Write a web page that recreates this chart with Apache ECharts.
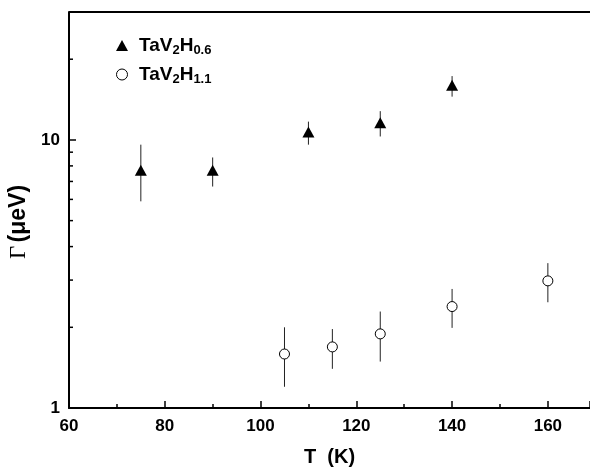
<!DOCTYPE html>
<html>
<head>
<meta charset="utf-8">
<script src="https://cdn.jsdelivr.net/npm/echarts@6/dist/echarts.min.js"></script>
<style>
  html, body { margin: 0; padding: 0; background: #fff; }
  #main { width: 590px; height: 468px; }
</style>
</head>
<body>
<div id="main"></div>
<script>
// TaV2H0.6 : T, gamma, low, high
var tempA = [75, 90, 110, 125, 140];
var gammaA = [7.7, 7.7, 10.7, 11.6, 16.0];
var lowA = [5.9, 6.7, 9.6, 10.3, 14.5];
var highA = [9.6, 8.6, 11.7, 12.8, 17.3];

// TaV2H1.1
var tempB = [105, 115, 125, 140, 160];
var gammaB = [1.59, 1.69, 1.89, 2.39, 2.98];
var lowB = [1.2, 1.4, 1.49, 1.99, 2.48];
var highB = [2.0, 1.97, 2.29, 2.78, 3.47];

var yMinorTicks = [2, 3, 4, 5, 6, 7, 8, 9, 20];

function pairs(xs, ys) {
    var out = [];
    for (var i = 0; i < xs.length; i++) out.push([xs[i], ys[i]]);
    return out;
}
function bars(xs, lo, hi) {
    var out = [];
    for (var i = 0; i < xs.length; i++) out.push([xs[i], lo[i], hi[i]]);
    return out;
}

function renderBar(params, api) {
    var p1 = api.coord([api.value(0), api.value(1)]);
    var p2 = api.coord([api.value(0), api.value(2)]);
    return {
        type: 'line',
        shape: { x1: p1[0], y1: p1[1], x2: p2[0], y2: p2[1] },
        style: { stroke: '#222', lineWidth: 1 }
    };
}

function renderMinor(params, api) {
    var p = api.coord([api.value(0), api.value(1)]);
    return {
        type: 'line',
        shape: { x1: p[0], y1: p[1], x2: p[0] + 4, y2: p[1] },
        style: { stroke: '#000', lineWidth: 1.5 }
    };
}

var sub = { fontSize: 13, fontWeight: 'bold', fontFamily: 'Liberation Sans', color: '#000', padding: [10, 0, 0, 0] };
var big = { fontSize: 19, fontWeight: 'bold', fontFamily: 'Liberation Sans', color: '#000' };

var myChart = echarts.init(document.getElementById('main'));
var option = {
    backgroundColor: '#fff',
    animation: false,
    grid: { left: 69, right: 0, top: 12, bottom: 60, outerBoundsMode: 'none', containLabel: false },
    legend: {
        orient: 'vertical',
        left: 111,
        top: 31,
        itemGap: 8,
        itemWidth: 12,
        itemHeight: 11,
        data: [
            { name: 'a', icon: 'triangle', itemStyle: { color: '#000' } },
            { name: 'b', icon: 'circle', itemStyle: { color: '#fff', borderColor: '#000', borderWidth: 1 } }
        ],
        formatter: function (n) {
            return n === 'a' ? '{b|TaV}{s|2}{b|H}{s|0.6}' : '{b|TaV}{s|2}{b|H}{s|1.1}';
        },
        textStyle: { rich: { b: big, s: sub }, padding: [0, 0, 0, 6] }
    },
    xAxis: {
        type: 'value',
        min: 60,
        max: 168.8,
        interval: 20,
        name: 'T  (K)',
        nameLocation: 'middle',
        nameGap: 39,
        nameTextStyle: { fontSize: 20, fontWeight: 'bold', fontFamily: 'Liberation Sans', color: '#000' },
        axisLine: { lineStyle: { color: '#000', width: 2 } },
        axisTick: { inside: true, length: 7, lineStyle: { color: '#000', width: 1.5 } },
        minorTick: { show: true, splitNumber: 2, length: 4, lineStyle: { color: '#000', width: 1.5 } },
        axisLabel: { fontSize: 17, fontWeight: 'bold', fontFamily: 'Liberation Sans', color: '#000', margin: 10, showMaxLabel: false },
        splitLine: { show: false }
    },
    yAxis: {
        type: 'log',
        logBase: 10,
        min: 1,
        max: 30,
        name: '{g|Γ} {u|(μeV)}',
        nameLocation: 'middle',
        nameGap: 34,
        nameRotate: 90,
        nameTextStyle: {
            padding: [0, 24, 0, 0],
            rich: {
                g: { fontSize: 23, fontFamily: 'Liberation Serif', color: '#000' },
                u: { fontSize: 23, fontWeight: 'bold', fontFamily: 'Liberation Sans', color: '#000' }
            }
        },
        axisLine: { lineStyle: { color: '#000', width: 2 } },
        axisTick: { inside: true, length: 7, lineStyle: { color: '#000', width: 1.5 } },
        axisLabel: {
            fontSize: 17, fontWeight: 'bold', fontFamily: 'Liberation Sans', color: '#000', margin: 9,
            formatter: function (v) { return (v === 1 || v === 10) ? String(v) : ''; }
        },
        splitLine: { show: false }
    },
    series: [
        {
            type: 'custom',
            renderItem: renderMinor,
            data: yMinorTicks.map(function (v) { return [60, v]; }),
            encode: { x: 0, y: 1 },
            silent: true,
            z: 1
        },
        {
            type: 'custom',
            renderItem: renderBar,
            data: bars(tempA, lowA, highA),
            encode: { x: 0, y: [1, 2] },
            z: 2
        },
        {
            type: 'custom',
            renderItem: renderBar,
            data: bars(tempB, lowB, highB),
            encode: { x: 0, y: [1, 2] },
            z: 2
        },
        {
            name: 'a',
            type: 'scatter',
            symbol: 'triangle',
            symbolSize: [12, 11],
            itemStyle: { color: '#000', opacity: 1 },
            data: pairs(tempA, gammaA),
            z: 3
        },
        {
            name: 'b',
            type: 'scatter',
            symbol: 'circle',
            symbolSize: 10,
            itemStyle: { color: '#fff', borderColor: '#000', borderWidth: 1, opacity: 1 },
            data: pairs(tempB, gammaB),
            z: 3
        }
    ]
};
myChart.setOption(option);

// top frame line
var tl = myChart.convertToPixel({ xAxisIndex: 0, yAxisIndex: 0 }, [60, 30]);
myChart.setOption({
    graphic: [{
        type: 'line',
        shape: { x1: tl[0], y1: tl[1], x2: 590, y2: tl[1] },
        style: { stroke: '#000', lineWidth: 2 }
    }]
});
</script>
</body>
</html>
